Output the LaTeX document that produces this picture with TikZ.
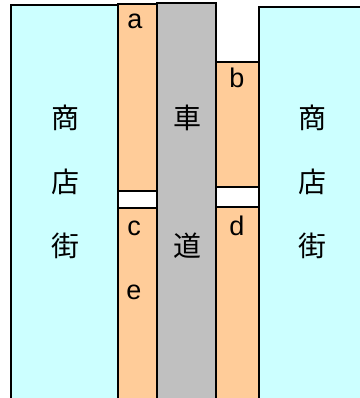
\documentclass[tikz,border=0pt]{standalone}
\usepackage{fontspec}
\setmainfont{Liberation Sans}
\newfontfamily\cjk{Noto Sans CJK JP}
\definecolor{shopcyan}{HTML}{CCFFFF}
\definecolor{walkorange}{HTML}{FFCC99}
\definecolor{roadgray}{HTML}{C0C0C0}
\tikzset{
  shop/.style={draw, line width=1.2pt, fill=shopcyan},
  walk/.style={draw, line width=1.2pt, fill=walkorange},
  road/.style={draw, line width=1.2pt, fill=roadgray},
  letter/.style={font=\fontsize{27}{27}\selectfont, anchor=base},
  kanji/.style={font=\cjk\fontsize{28}{28}\selectfont}
}
\begin{document}
\begin{tikzpicture}[x=1pt, y=-1pt]
    \useasboundingbox (0,0) rectangle (359,398);

    \draw[shop] (11,5) rectangle (118,402);
    \draw[shop] (259,7) rectangle (366,402);
    \draw[road] (157,3) rectangle (216,402);
    \draw[walk] (118,4) rectangle (157,191);
    \draw[walk] (118,208) rectangle (157,402);
    \draw[walk] (216,62) rectangle (259,187);
    \draw[walk] (216,207) rectangle (259,402);

    \node[letter] (a) at (135,29) {a};
    \node[letter] (b) at (237,88) {b};
    \node[letter] (c) at (134,235) {c};
    \node[letter] (d) at (237,235) {d};
    \node[letter] (e) at (134,299) {e};

    \node[kanji] (shoL1) at (65,118) {商};
    \node[kanji] (shoL2) at (65,182) {店};
    \node[kanji] (shoL3) at (65,246) {街};
    \node[kanji] (shoR1) at (312,118) {商};
    \node[kanji] (shoR2) at (312,182) {店};
    \node[kanji] (shoR3) at (312,246) {街};
    \node[kanji] (road1) at (187,118) {車};
    \node[kanji] (road2) at (187,246) {道};
\end{tikzpicture}
\end{document}
